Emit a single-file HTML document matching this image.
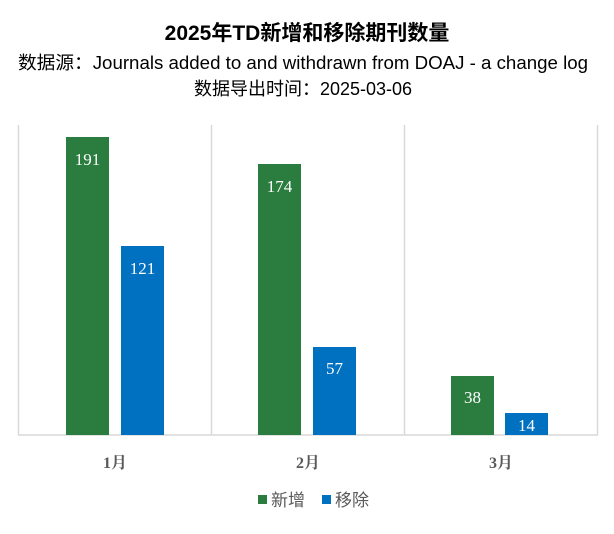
<!DOCTYPE html>
<html><head><meta charset="utf-8"><style>
body{margin:0;background:#fff;width:614px;height:529px;overflow:hidden;font-family:"Liberation Sans","Noto Sans CJK SC",sans-serif;}
</style></head><body>
<svg width="614" height="529" xmlns="http://www.w3.org/2000/svg">
<text x="307" y="40" text-anchor="middle" font-size="21" font-weight="bold" fill="#000" font-family="Liberation Sans,Noto Sans CJK SC,sans-serif">2025年TD新增和移除期刊数量</text>
<text x="303" y="69" text-anchor="middle" font-size="18" fill="#000" font-family="Liberation Sans,Noto Sans CJK SC,sans-serif" textLength="570" lengthAdjust="spacingAndGlyphs">数据源：Journals added to and withdrawn  from DOAJ - a change log</text>
<text x="303" y="95" text-anchor="middle" font-size="18" fill="#000" font-family="Liberation Sans,Noto Sans CJK SC,sans-serif">数据导出时间：2025-03-06</text>
<g stroke="#d9d9d9" stroke-width="1.5">
<line x1="18.5" y1="125" x2="18.5" y2="435"/><line x1="211.5" y1="125" x2="211.5" y2="435"/>
<line x1="404.5" y1="125" x2="404.5" y2="435"/><line x1="597.5" y1="125" x2="597.5" y2="435"/>
<line x1="18" y1="435" x2="598" y2="435"/>
</g>
<g fill="#2a7d3f">
<rect x="66" y="137" width="43" height="298"/><rect x="258" y="164" width="43" height="271"/><rect x="451" y="376" width="43" height="59"/>
</g>
<g fill="#0070c0">
<rect x="121" y="246" width="43" height="189"/><rect x="313" y="347" width="43" height="88"/><rect x="505" y="413" width="43" height="22"/>
</g>
<g fill="#fff" font-size="17" text-anchor="middle" font-family="Liberation Serif,serif">
<text x="87.5" y="165">191</text><text x="142.5" y="274">121</text>
<text x="279.5" y="192">174</text><text x="334.5" y="374">57</text>
<text x="472.5" y="403">38</text><text x="526.5" y="431">14</text>
</g>
<g font-size="16" font-weight="bold" text-anchor="middle" fill="#595959" font-family="Liberation Serif,Noto Serif CJK SC,serif">
<text x="115" y="468">1月</text><text x="308" y="468">2月</text><text x="501" y="468">3月</text>
</g>
<rect x="258" y="495" width="9" height="9" fill="#2a7d3f"/>
<text x="271" y="506" font-size="17" fill="#595959" font-family="Liberation Sans,Noto Sans CJK SC,sans-serif">新增</text>
<rect x="322" y="495" width="9" height="9" fill="#0070c0"/>
<text x="335" y="506" font-size="17" fill="#595959" font-family="Liberation Sans,Noto Sans CJK SC,sans-serif">移除</text>
</svg>
</body></html>
